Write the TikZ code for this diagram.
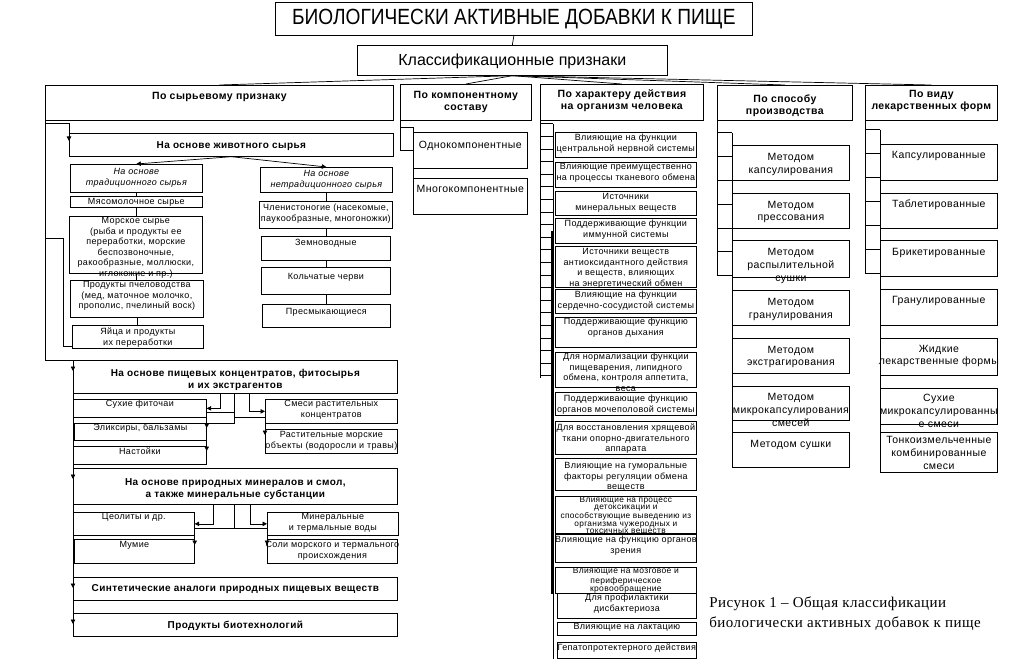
\documentclass[tikz,border=0pt]{standalone}
\usepackage{fontspec}
\setmainfont{Liberation Sans}
\newfontfamily\spaced[LetterSpace=4]{Liberation Sans}
\newfontfamily\narrowf[FakeStretch=0.87]{Liberation Sans}
\newfontfamily\capf[LetterSpace=3]{Liberation Serif}
\usetikzlibrary{arrows.meta,positioning}
% fixed-size box text: [top pad]{width}{height}{text}
\newcommand{\boxtext}[4][1]{\parbox[c][#3pt][t]{#2pt}{\vspace*{#1pt}\centering
  \leftskip=-7pt plus 1fil\rightskip=-7pt plus 1fil\strut#4\par}}
\tikzset{
  box/.style={draw, fill=white, inner sep=0pt, line width=0.7pt, anchor=north west},
  hd/.style={box, font=\spaced\bfseries\fontsize{10.5}{11.8}\selectfont},
  grp/.style={box, font=\spaced\bfseries\fontsize{10}{12}\selectfont},
  sm/.style={box, font=\spaced\fontsize{9}{10.5}\selectfont},
  smi/.style={sm, font=\spaced\itshape\fontsize{9}{10.5}\selectfont},
  md/.style={box, font=\spaced\fontsize{10.5}{12.8}\selectfont},
  arr/.style={-{Triangle[length=4.5pt,width=4.5pt]}, line width=0.7pt},
}
\begin{document}
\begin{tikzpicture}[x=1pt,y=-1pt,line width=0.7pt]
  \useasboundingbox (0,0) rectangle (1009,660);

  \node[box, font=\narrowf\fontsize{22}{25}\selectfont] (title) at (275,2)
    {\boxtext[4.4]{477}{33}{БИОЛОГИЧЕСКИ АКТИВНЫЕ ДОБАВКИ К ПИЩЕ}};
  \node[box, font=\fontsize{16}{19}\selectfont] (class) at (357,45)
    {\boxtext[6.7]{310}{30}{Классификационные признаки}};

  % headers
  \node[hd] (h1) at (45,85)  {\boxtext[6.3]{348}{35}{По сырьевому признаку}};
  \node[hd] (h2) at (400,84) {\boxtext[6.3]{131}{36}{По компонентному\\составу}};
  \node[hd] (h3) at (540,84) {\boxtext[5.3]{163}{36}{По характеру действия\\на организм человека}};
  \node[hd] (h4) at (717,85) {\boxtext[9.3]{135}{35}{По способу\\производства}};
  \node[hd] (h5) at (865,85) {\boxtext[4.3]{132}{35}{По виду\\лекарственных форм}};

  % raw material column
  \node[grp] (animal) at (69,133) {\boxtext[6.3]{324}{23}{На основе животного сырья}};
  \node[smi] (trad) at (70,164) {\boxtext[3.2]{132}{28}{На основе\\традиционного сырья}};
  \node[sm] (meat) at (70,196) {\boxtext[1.2]{132}{11}{Мясомолочное сырье}};
  \node[sm] (sea) at (69,216) {\boxtext[0]{133}{57}{Морское сырье\\(рыба и продукты ее\\переработки, морские\\беспозвоночные,\\ракообразные, моллюски,\\иглокожие и пр.)}};
  \node[sm] (bee) at (70,280) {\boxtext[0.2]{133}{37}{Продукты пчеловодства\\(мед, маточное молочко,\\прополис, пчелиный воск)}};
  \node[sm] (egg) at (72,325) {\boxtext[2.2]{131}{23}{Яйца и продукты\\их переработки}};
  \node[smi] (nontrad) at (260,167) {\boxtext[2.2]{132}{25}{На основе\\нетрадиционного сырья}};
  \node[sm] (arthro) at (259,201) {\boxtext[2.2]{133}{27}{Членистоногие (насекомые,\\паукообразные, многоножки)}};
  \node[sm] (amph) at (261,236) {\boxtext[2.2]{129}{24}{Земноводные}};
  \node[sm] (worm) at (261,267) {\boxtext[5.2]{129}{27}{Кольчатые черви}};
  \node[sm] (rept) at (262,304) {\boxtext[3.2]{128}{23}{Пресмыкающиеся}};

  \node[grp] (conc) at (73,360) {\boxtext[7.3]{324}{33}{На основе пищевых концентратов, фитосырья\\и их экстрагентов}};
  \node[sm] (tea) at (73,399) {\boxtext[0.2]{133}{18}{Сухие фиточаи}};
  \node[sm] (elix) at (74,423) {\boxtext[0.2]{132}{17}{Эликсиры, бальзамы}};
  \node[sm] (tinc) at (73,446) {\boxtext[1.2]{133}{18}{Настойки}};
  \node[sm] (mix) at (265,399) {\boxtext[0.2]{132}{24}{Смеси растительных\\концентратов}};
  \node[sm] (sweed) at (265,429) {\boxtext[1.2]{132}{24}{Растительные морские\\объекты (водоросли и травы)}};

  \node[grp] (mine) at (73,468) {\boxtext[8.3]{324}{36}{На основе природных минералов и смол,\\а также минеральные субстанции}};
  \node[sm] (zeo) at (73,512) {\boxtext[0.2]{121}{23}{Цеолиты и др.}};
  \node[sm] (mum) at (74,539) {\boxtext[1.2]{120}{24}{Мумие}};
  \node[sm] (water) at (267,512) {\boxtext[0]{131}{23}{Минеральные\\и термальные воды}};
  \node[sm] (salt) at (267,539) {\boxtext[1.2]{130}{24}{Соли морского и термального\\происхождения}};

  \node[grp] (synt) at (73,577) {\boxtext[5.3]{324}{23}{Синтетические аналоги природных пищевых веществ}};
  \node[grp] (bio) at (73,613) {\boxtext[6.3]{324}{23}{Продукты биотехнологий}};

  % composition column
  \node[md] (one) at (413,132) {\boxtext[6.8]{114}{36}{Однокомпонентные}};
  \node[md, below=9pt of one] (two) {\boxtext[5.8]{114}{36}{Многокомпонентные}};

  % action column
  \node[sm] (s1) at (555,132) {\boxtext{141}{25}{Влияющие на функции\\центральной нервной системы}};
  \node[sm] (s2) at (555,162) {\boxtext[0.2]{141}{25}{Влияющие преимущественно\\на процессы тканевого обмена}};
  \node[sm] (s3) at (555,191) {\boxtext{141}{24}{Источники\\минеральных веществ}};
  \node[sm] (s4) at (555,218) {\boxtext{141}{25}{Поддерживающие функции\\иммунной системы}};
  \node[sm] (s5) at (555,246) {\boxtext{141}{41}{Источники веществ\\антиоксидантного действия\\и веществ, влияющих\\на энергетический обмен}};
  \node[sm] (s6) at (555,289) {\boxtext{141}{24}{Влияющие на функции\\сердечно-сосудистой системы}};
  \node[sm] (s7) at (555,317) {\boxtext[0]{141}{30}{Поддерживающие функцию\\органов дыхания}};
  \node[sm] (s8) at (555,352) {\boxtext[0]{141}{35}{Для нормализации функции\\пищеварения, липидного\\обмена, контроля аппетита,\\веса}};
  \node[sm] (s9) at (555,392) {\boxtext[2]{141}{23}{Поддерживающие функцию\\органов мочеполовой системы}};
  \node[sm] (s10) at (555,421) {\boxtext[2]{141}{33}{Для восстановления хрящевой\\ткани опорно-двигательного\\аппарата}};
  \node[sm] (s11) at (555,458) {\boxtext[3]{141}{32}{Влияющие на гуморальные\\факторы регуляции обмена\\веществ}};
  \node[sm, font=\spaced\fontsize{8.3}{7.6}\selectfont] (s12) at (555,496)
    {\boxtext[0]{141}{37}{Влияющие на процесс\\детоксикации и\\способствующие выведению из\\организма чужеродных и\\токсичных веществ}};
  \node[sm] (s13) at (555,534) {\boxtext{141}{28}{Влияющие на функцию органов\\зрения}};
  \node[sm, font=\spaced\fontsize{8.5}{8.3}\selectfont] (s14) at (555,567)
    {\boxtext[0.5]{141}{26}{Влияющие на мозговое и\\периферическое\\кровообращение}};
  \node[sm] (s15) at (557,593) {\boxtext[0.2]{139}{25}{Для профилактики\\дисбактериоза}};
  \node[sm] (s16) at (557,622) {\boxtext[0]{139}{13}{Влияющие на лактацию}};
  \node[sm] (s17) at (557,642) {\boxtext[1.2]{139}{16}{Гепатопротектерного действия}};

  % production column
  \node[md] (p1) at (732,145) {\boxtext[6]{117}{35}{Методом\\капсулирования}};
  \node[md, below=12pt of p1] (p2) {\boxtext[6]{117}{35}{Методом\\прессования}};
  \node[md, below=12pt of p2] (p3) {\boxtext[6]{117}{37}{Методом\\распылительной\\сушки}};
  \node[md, below=12pt of p3] (p4) {\boxtext[6]{117}{35}{Методом\\гранулирования}};
  \node[md, below=12pt of p4] (p5) {\boxtext[6]{117}{35}{Методом\\экстрагирования}};
  \node[md, below=12pt of p5] (p6) {\boxtext[6]{117}{34}{Методом\\микрокапсулирования\\смесей}};
  \node[md, below=12pt of p6] (p7) {\boxtext[6]{117}{35}{Методом сушки}};

  % dosage form column
  \node[md] (f1) at (880,144) {\boxtext[5.5]{117}{36}{Капсулированные}};
  \node[md, below=12pt of f1] (f2) {\boxtext[5.5]{117}{35}{Таблетированные}};
  \node[md, below=12pt of f2] (f3) {\boxtext[5.5]{117}{36}{Брикетированные}};
  \node[md, below=12pt of f3] (f4) {\boxtext[5.5]{117}{36}{Гранулированные}};
  \node[md, below=12pt of f4] (f5) {\boxtext[5]{117}{37}{Жидкие\\лекарственные формы}};
  \node[md, below=12pt of f5] (f6) {\boxtext[5]{117}{36}{Сухие\\микрокапсулированны\\е смеси}};
  \node[md, below=8pt of f6] (f7) {\boxtext[2]{117}{40}{Тонкоизмельченные\\комбинированные\\смеси}};

  \node[anchor=north west, inner sep=0pt, align=left, font=\capf\fontsize{15}{20}\selectfont] (cap) at (709,596)
    {Рисунок 1 – Общая классификации\\биологически активных добавок к пище};

  % top links
  \draw (title.south) -- (class.north);
  \foreach \h in {h1,h2,h3,h4,h5}
    \draw (class.south) -- (\h.north);

  % raw material links
  \draw (h1.south west) |- (conc.north west);
  \draw[arr] ([yshift=-3pt]h1.south west) -| ([yshift=-8pt]animal.north west);
  \coordinate (k1) at (63,238);
  \coordinate (k2) at (63,346);
  \draw (h1.south west |- k1) -- (k1) -- (k2) -- (egg.west |- k2);
  \draw (conc.north west) -- (bio.south west);
  \foreach \n in {conc,mine,synt,bio}
    \draw[arr] (\n.north west) -- ([yshift=-11pt]\n.north west);
  \draw[arr] (animal.south) -- (trad.north);
  \draw[arr] (animal.south) -- (nontrad.north);
  \foreach \a/\b in {trad/meat,meat/sea,sea/bee,bee/egg,nontrad/arthro,arthro/amph,amph/worm,worm/rept}
    \draw (\a.south) -- (\a.south |- \b.north);

  \coordinate (c1) at ([xshift=147pt]conc.south west);
  \coordinate (c2) at ([xshift=176pt]conc.south west);
  \coordinate (c3) at ([xshift=161pt]conc.south west);
  \draw[arr] (c1) |- (tea.east);
  \draw[arr] (c2) |- (mix.west);
  \draw ([yshift=-4pt]tea.east) -| (c3);
  \draw (elix.north east) -| (c3);
  \draw (c3) |- ([yshift=6pt]mix.south west);
  \draw[arr] ([yshift=-4pt]tea.east) -- ([yshift=-5pt]elix.north east);
  \draw[arr] (elix.north east) -- ([yshift=-5pt]tinc.north east);
  \draw[arr] (mix.south west) -- ([yshift=-6pt]sweed.north west);

  \coordinate (m1) at ([xshift=140pt]mine.south west);
  \coordinate (m2) at ([xshift=177pt]mine.south west);
  \coordinate (m3) at ([xshift=161pt]mine.south west);
  \coordinate (m4) at ([yshift=-24pt]m3);
  \draw[arr] (m1) |- (zeo.east);
  \draw[arr] (m2) |- (water.west);
  \draw (m3) -- (m4);
  \draw (zeo.east |- m4) -- (water.west |- m4);
  \draw[arr] (zeo.east |- m4) -- ([yshift=-6pt]mum.north east);
  \draw[arr] (water.west |- m4) -- ([yshift=-6pt]salt.north west);

  % composition bracket
  \draw (h2.south west) |- ([yshift=5pt]one.north west) -- (two.south west);
  \draw (one.west) -| (h2.south west);

  % ladders
  \draw (h3.south west) -- ++(0,257);
  \foreach \i in {0,...,20}
    \draw ([yshift=-3pt-12.6pt*\i]h3.south west) -- ++(13,0);
  \coordinate (i3) at ([xshift=13pt,yshift=-3pt]h3.south west);
  \draw (i3) -- (i3 |- s17.south);
  \draw[line width=3pt] ([xshift=-2.5pt]s4.west) -- ([xshift=-2.5pt]s14.south west);

  \draw (h4.south west) -- ++(0,155);
  \foreach \i in {0,...,6}
    \draw ([yshift=-12pt-23.8pt*\i]h4.south west) -- ++(15,0);
  \coordinate (i4) at ([xshift=15pt,yshift=-12pt]h4.south west);
  \draw (i4) -- (i4 |- p7.south);

  \draw (h5.south west) -- ++(0,153);
  \foreach \i in {0,...,6}
    \draw ([yshift=-9pt-24pt*\i]h5.south west) -- ++(15,0);
  \coordinate (i5) at ([xshift=15pt,yshift=-9pt]h5.south west);
  \draw (i5) -- (i5 |- f7.south);
\end{tikzpicture}
\end{document}
